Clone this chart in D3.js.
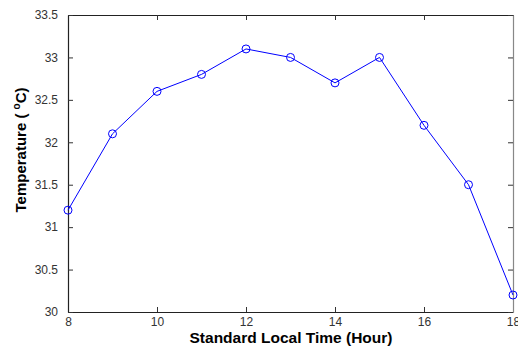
<!DOCTYPE html>
<html><head><meta charset="utf-8">
<script src="https://cdn.jsdelivr.net/npm/d3@7"></script>
<style>
body{margin:0;background:#fff;}
text{font-family:"Liberation Sans",Arial,Helvetica,sans-serif;}
</style></head>
<body><svg id="c" width="518" height="346"></svg>
<script>
const hours = [8, 9, 10, 11, 12, 13, 14, 15, 16, 17, 18];
const temps = [31.2, 32.1, 32.6, 32.8, 33.1, 33.0, 32.7, 33.0, 32.2, 31.5, 30.2];
const xTicks = [8, 10, 12, 14, 16, 18];
const yTicks = [30, 30.5, 31, 31.5, 32, 32.5, 33, 33.5];

const L = 68, R = 513, T = 15, B = 312;
const svg = d3.select("#c");
const x = d3.scaleLinear().domain([8, 18]).range([L, R]);
const y = d3.scaleLinear().domain([30, 33.5]).range([B, T]);

const tickFmt = d => String(d);

const gx = svg.append("g").attr("transform", `translate(0,${B})`)
  .call(d3.axisBottom(x).tickValues(xTicks).tickFormat(tickFmt).tickSizeInner(-5).tickSizeOuter(0).tickPadding(5));
const gxt = svg.append("g").attr("transform", `translate(0,${T})`)
  .call(d3.axisTop(x).tickValues(xTicks).tickFormat("").tickSizeInner(-5).tickSizeOuter(0));
const gy = svg.append("g").attr("transform", `translate(${L},0)`)
  .call(d3.axisLeft(y).tickValues(yTicks).tickFormat(tickFmt).tickSizeInner(-5).tickSizeOuter(0).tickPadding(10));
const gyr = svg.append("g").attr("transform", `translate(${R},0)`)
  .call(d3.axisRight(y).tickValues(yTicks).tickFormat("").tickSizeInner(-5).tickSizeOuter(0));

[gx, gxt, gy, gyr].forEach(g => {
  g.select(".domain").attr("stroke", "#222").attr("stroke-width", 1.2);
  g.selectAll(".tick line").attr("stroke", "#333");
  g.selectAll(".tick text").attr("font-size", 12).attr("fill", "#333")
   .attr("font-family", '"Liberation Sans",Arial,sans-serif');
});
gyr.select(".domain").attr("stroke", "#888");

const line = d3.line().x((d, i) => x(hours[i])).y(d => y(d));
svg.append("path").datum(temps).attr("d", line)
  .attr("fill", "none").attr("stroke", "#0000ff").attr("stroke-width", 1);

svg.append("g").selectAll("circle").data(temps).join("circle")
  .attr("cx", (d, i) => x(hours[i])).attr("cy", d => y(d)).attr("r", 4)
  .attr("fill", "none").attr("stroke", "#0000ff").attr("stroke-width", 1);

svg.append("text").attr("x", 291).attr("y", 343).attr("text-anchor", "middle")
  .attr("font-size", 15.5).attr("font-weight", "bold").attr("fill", "#000")
  .text("Standard Local Time (Hour)");

const yt = svg.append("text").attr("transform", `translate(26,150) rotate(-90)`)
  .attr("text-anchor", "middle").attr("font-size", 15).attr("font-weight", "bold").attr("fill", "#000");
yt.append("tspan").text("Temperature ( ");
yt.append("tspan").attr("font-size", 10).attr("dy", -6).text("o");
yt.append("tspan").attr("dy", 6).text("C)");
</script>
</body></html>
